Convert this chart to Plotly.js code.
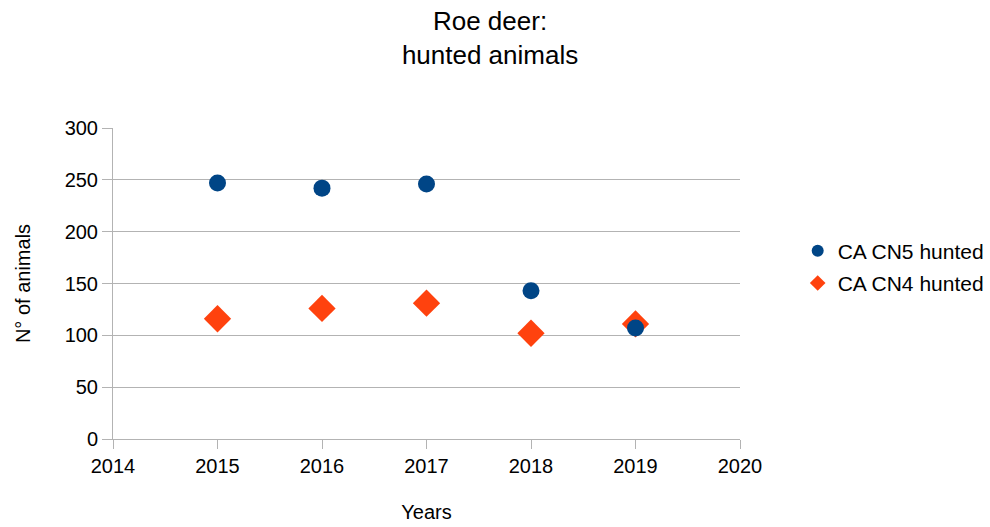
<!DOCTYPE html>
<html><head><meta charset="utf-8">
<script src="https://cdn.plot.ly/plotly-3.0.1.min.js"></script>
<style>html,body{margin:0;padding:0;background:#fff}</style>
</head><body>
<div id="chart" style="width:990px;height:527px"></div>
<script>
const years = [2015, 2016, 2017, 2018, 2019];
const cn5Hunted = [247, 242, 246, 143, 107];
const cn4Hunted = [116, 126, 131, 102, 111];
const seriesNames = ["CA CN5 hunted", "CA CN4 hunted"];

const font = "Liberation Sans, Arial, sans-serif";
const cn5 = {x: years, y: cn5Hunted, name: seriesNames[0], type: "scatter", mode: "markers",
   legendgroup: "a", legendrank: 1,
   marker: {symbol: "circle", size: 17, color: "#004586"}};
const cn4 = {x: years, y: cn4Hunted, name: seriesNames[1], type: "scatter", mode: "markers",
   legendgroup: "b", legendrank: 2,
   marker: {symbol: "diamond", size: 21, color: "#ff420e"}};

const layout = {
  width: 990, height: 527,
  margin: {l: 113, r: 250, t: 128, b: 88, autoexpand: false},
  paper_bgcolor: "#fff", plot_bgcolor: "#fff",
  font: {family: font, size: 20, color: "#000"},
  title: {text: "Roe deer:<br>hunted animals", x: 0.495, xanchor: "center", y: 0.943, yanchor: "top",
          font: {family: font, size: 26, color: "#000"}},
  xaxis: {range: [2014, 2020], dtick: 1, tick0: 2014, showgrid: false, zeroline: false,
          showline: true, linecolor: "#b3b3b3", linewidth: 1, ticks: "outside", ticklen: 9,
          tickcolor: "#b3b3b3", tickfont: {family: font, size: 20, color: "#000"},
          title: {text: "Years", font: {family: font, size: 20, color: "#000"}, standoff: 28}},
  yaxis: {range: [0, 300], dtick: 50, showgrid: true, gridcolor: "#b3b3b3", zeroline: false,
          showline: true, linecolor: "#b3b3b3", linewidth: 1, ticks: "outside", ticklen: 10,
          tickcolor: "#b3b3b3", tickfont: {family: font, size: 20, color: "#000"},
          title: {text: "N° of animals", font: {family: font, size: 20, color: "#000"}, standoff: 28}},
  legend: {x: 1.092, xref: "paper", xanchor: "left", y: 0.553, yanchor: "middle",
           font: {family: font, size: 21, color: "#000"},
           itemsizing: "constant", tracegroupgap: 2, traceorder: "grouped"},
  showlegend: true
};
Plotly.newPlot("chart", [cn4, cn5], layout, {displayModeBar: false, staticPlot: true});
</script>
</body></html>
